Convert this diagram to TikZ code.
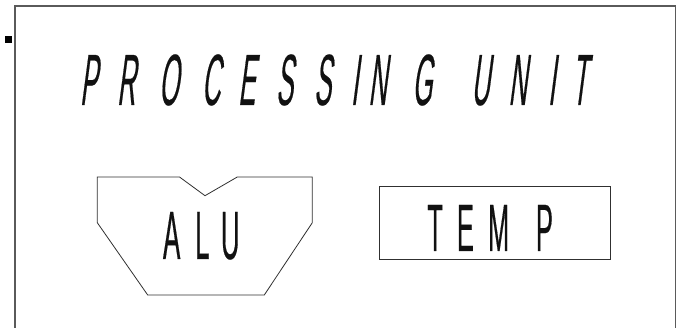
\documentclass[tikz,border=0pt]{standalone}
\usepackage{fontspec}
\newfontfamily\titlefont[FakeStretch=0.35,FakeSlant=0.13,FakeBold=0.25]{Liberation Sans}
\newfontfamily\condfont[FakeStretch=0.38,FakeBold=0.25]{Liberation Sans}
\newcommand\lsp[1]{\hspace{#1pt}}
\definecolor{framegray}{HTML}{5A5A5A}
\definecolor{shapegray}{HTML}{303030}
\definecolor{ink}{HTML}{111111}
\begin{document}
\begin{tikzpicture}[x=1pt,y=1pt,
  frameline/.style={draw=framegray,line width=1.1pt},
  shapeline/.style={draw=shapegray,line width=0.8pt,line join=miter},
  label/.style={inner sep=0pt,outer sep=0pt,anchor=base west,text=ink}]
\useasboundingbox (0,0) rectangle (677,328);
% outer frame (open at the bottom)
\draw[frameline] (15,0) -- (15,322) -- (675.5,322) -- (675.5,0);
% small marker square
\fill[black] (5,285) rectangle (12,292);
% title
\node[label] (title) at (80,223)
  {\titlefont\fontsize{72.6pt}{80pt}\selectfont
   P\lsp{20.1}R\lsp{23.5}O\lsp{23.1}C\lsp{18}E\lsp{20.9}S\lsp{21.1}S\lsp{19.9}I\lsp{10.4}N\lsp{25.5}G\lsp{39.3}U\lsp{18.8}N\lsp{21.2}I\lsp{16.7}T};
% ALU shape
\draw[shapeline] (97.3,151) -- (179.5,151) -- (205,132.3) -- (237.3,151) -- (312.3,151)
  -- (312.3,105.3) -- (264.3,33) -- (147.7,33) -- (97.3,105.3) -- cycle;
\node[label] (alu) at (163,69)
  {\condfont\fontsize{68.4pt}{75pt}\selectfont A\lsp{14.8}L\lsp{11.3}U};
% TEMP box
\draw[shapeline] (379,69) rectangle (610,142);
\node[label] (temp) at (427.4,77)
  {\condfont\fontsize{67pt}{74pt}\selectfont T\lsp{14}E\lsp{14.1}M\lsp{26.7}P};
\end{tikzpicture}
\end{document}
